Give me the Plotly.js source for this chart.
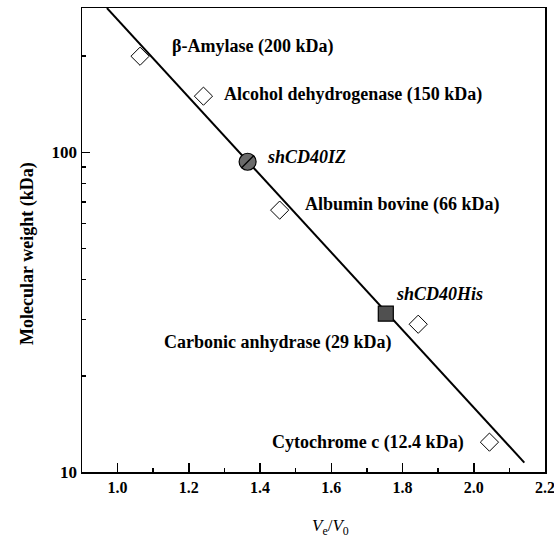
<!DOCTYPE html>
<html>
<head>
<meta charset="utf-8">
<script src="https://cdn.plot.ly/plotly-3.0.1.min.js"></script>
<style>html,body{margin:0;padding:0;background:#fff;}#chart{width:554px;height:539px;}</style>
</head>
<body>
<div id="chart"></div>
<script>
// Standard proteins
var standardNames = ['β-Amylase (200 kDa)', 'Alcohol dehydrogenase (150 kDa)', 'Albumin bovine (66 kDa)', 'Carbonic anhydrase (29 kDa)', 'Cytochrome c (12.4 kDa)'];
var standardVeV0 = [1.063, 1.241, 1.455, 1.844, 2.044];
var standardMW = [200, 150, 66, 29, 12.4];

// Samples
var sampleIZName = 'shCD40IZ';
var sampleIZVeV0 = [1.365];
var sampleIZMW = [93.5];
var sampleHisName = 'shCD40His';
var sampleHisVeV0 = [1.753];
var sampleHisMW = [31.3];

// Calibration fit line (end points)
var fitVeV0 = [0.970, 2.142];
var fitMW = [283, 10.7];

// Axis ticks
var yTickVals = [10, 20, 30, 40, 50, 60, 70, 80, 90, 100, 200];
var yTickText = ['10', '', '', '', '', '', '', '', '', '100', ''];
var yMajorTicks = [10, 100];

var xTitle = '<i>V</i><sub>e</sub>/<i>V</i><sub>0</sub>';
var yTitle = 'Molecular weight (kDa)';

var FONT = 'Liberation Serif, Times New Roman, serif';

var traces = [
  {x: fitVeV0, y: fitMW, mode: 'lines', line: {color: '#000', width: 2}, showlegend: false, hoverinfo: 'skip'},
  {x: standardVeV0, y: standardMW, mode: 'markers', showlegend: false,
   marker: {symbol: 'diamond-open', size: 14, color: '#000', line: {color: '#000', width: 1}}},
  {x: sampleIZVeV0, y: sampleIZMW, mode: 'markers', showlegend: false,
   marker: {symbol: 'circle', size: 17, color: '#6a6a6a', line: {color: '#000', width: 1.2}}},
  {x: sampleIZVeV0, y: sampleIZMW, mode: 'markers', showlegend: false, hoverinfo: 'skip',
   marker: {symbol: 'line-ne', size: 12, color: '#000', line: {color: '#000', width: 1.2}}},
  {x: sampleHisVeV0, y: sampleHisMW, mode: 'markers', showlegend: false,
   marker: {symbol: 'square', size: 15, color: '#505050', line: {color: '#000', width: 1.2}}},
  // invisible trace carrying the long-tick overlay axis
  {x: [1.5], y: [50], xaxis: 'x', yaxis: 'y2', mode: 'markers', marker: {opacity: 0}, showlegend: false, hoverinfo: 'skip'}
];

// label placement (pixel-derived positions)
var labelPos = [[1.148, 47], [1.294, 95], [1.520, 205], [1.125, 343], [1.427, 443]];
function ylog(py) { return 2 + (152.7 - py) / 320; }
var annotations = [];
standardNames.forEach(function (name, i) {
  annotations.push({x: labelPos[i][0], y: ylog(labelPos[i][1]), xref: 'x', yref: 'y', text: '<b>' + name + '</b>',
    showarrow: false, xanchor: 'left', yanchor: 'middle', font: {family: FONT, size: 18, color: '#000'}});
});
annotations.push({x: 1.415, y: ylog(157), xref: 'x', yref: 'y', text: '<b><i>' + sampleIZName + '</i></b>',
  showarrow: false, xanchor: 'left', yanchor: 'middle', font: {family: FONT, size: 18, color: '#000'}});
annotations.push({x: 1.777, y: ylog(294), xref: 'x', yref: 'y', text: '<b><i>' + sampleHisName + '</i></b>',
  showarrow: false, xanchor: 'left', yanchor: 'middle', font: {family: FONT, size: 18, color: '#000'}});
// axis titles (paper coords relative to plot area)
var PL = 82, PT = 8, PW = 554 - 82 - 9, PH = 539 - 8 - 67;
annotations.push({x: (330 - PL) / PW, y: 1 - (527 - PT) / PH, xref: 'paper', yref: 'paper', xanchor: 'center', yanchor: 'middle',
  text: xTitle, showarrow: false, font: {family: FONT, size: 17, color: '#000'}});
annotations.push({x: (27 - PL) / PW, y: 1 - (254 - PT) / PH, xref: 'paper', yref: 'paper', xanchor: 'center', yanchor: 'middle',
  textangle: -90, text: '<b>' + yTitle + '</b>', showarrow: false, font: {family: FONT, size: 18, color: '#000'}});

var layout = {
  width: 554, height: 539,
  margin: {l: PL, r: 9, t: PT, b: 67},
  paper_bgcolor: '#fff', plot_bgcolor: '#fff',
  font: {family: FONT, color: '#000'},
  showlegend: false,
  xaxis: {
    range: [0.9, 2.2], showgrid: false, zeroline: false,
    showline: true, mirror: true, linecolor: '#000', linewidth: 1.5,
    tickmode: 'linear', tick0: 1.0, dtick: 0.2, tickformat: '.1f', ticklabeloverflow: 'allow',
    ticks: 'inside', ticklen: 9, tickwidth: 1.5, tickcolor: '#000',
    minor: {dtick: 0.1, tick0: 0.9, ticks: 'inside', ticklen: 4, tickwidth: 1.5, tickcolor: '#000', showgrid: false},
    tickfont: {family: FONT, size: 16, color: '#000', weight: 'bold'}
  },
  yaxis: {
    type: 'log', range: [1, 2.452], showgrid: false, zeroline: false,
    showline: true, mirror: true, linecolor: '#000', linewidth: 1.5,
    tickmode: 'array', tickvals: yTickVals, ticktext: yTickText,
    ticks: 'inside', ticklen: 4, tickwidth: 1.5, tickcolor: '#000',
    tickfont: {family: FONT, size: 17, color: '#000', weight: 'bold'}
  },
  yaxis2: {
    overlaying: 'y', anchor: 'x', side: 'left', type: 'log', range: [1, 2.452], showgrid: false, zeroline: false,
    showline: false, tickmode: 'array', tickvals: yMajorTicks, showticklabels: false,
    ticks: 'inside', ticklen: 8, tickwidth: 1.5, tickcolor: '#000'
  },
  annotations: annotations
};

Plotly.newPlot('chart', traces, layout, {displayModeBar: false, staticPlot: true});
</script>
</body>
</html>
